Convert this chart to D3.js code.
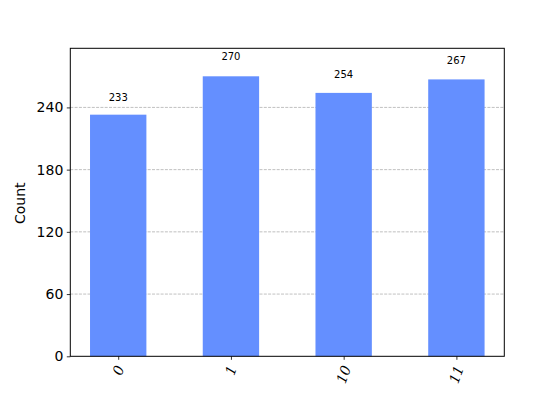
<!DOCTYPE html>
<html>
<head>
<meta charset="utf-8">
<script src="https://cdn.jsdelivr.net/npm/d3@7"></script>
<style>
  html, body { margin: 0; padding: 0; background: #fff; }
  svg { display: block; }
</style>
</head>
<body>
<svg id="chart" width="560" height="400"></svg>
<script>
const categories = ["0", "1", "10", "11"];
const counts = [233, 270, 254, 267];
const yTicks = [0, 60, 120, 180, 240];
const yLabel = "Count";

const W = 560, H = 400;
const margin = { left: 70.3, right: 504.3, top: 48.3, bottom: 356.3 };
const svg = d3.select("#chart");
const font = "'DejaVu Sans', sans-serif";

const idx = categories.map((d, i) => i);
const x = d3.scaleLinear().domain([-0.425, categories.length - 1 + 0.425]).range([margin.left, margin.right]);
const y = d3.scaleLinear().domain([0, d3.max(counts) * 1.1]).range([margin.bottom, margin.top]);
const barW = 0.5;

// grid
svg.append("g").selectAll("line").data(yTicks.filter(t => t > 0)).join("line")
  .attr("x1", margin.left).attr("x2", margin.right)
  .attr("y1", d => y(d)).attr("y2", d => y(d))
  .attr("stroke", "#b0b0b0").attr("stroke-width", 0.8)
  .attr("stroke-dasharray", "3,1.3");

// bars
svg.append("g").selectAll("rect").data(counts).join("rect")
  .attr("x", (d, i) => x(i - barW / 2))
  .attr("width", (d, i) => x(i + barW / 2) - x(i - barW / 2))
  .attr("y", d => y(d))
  .attr("height", d => y(0) - y(d))
  .attr("fill", "#648fff");

// value labels
svg.append("g").selectAll("text").data(counts).join("text")
  .attr("x", (d, i) => x(i))
  .attr("y", d => y(d * 1.05) - 2)
  .attr("text-anchor", "middle")
  .attr("font-family", font).attr("font-size", 10)
  .attr("fill", "#000")
  .text(d => d);

// y axis
const yAxis = d3.axisLeft(y).tickValues(yTicks).tickSize(3.5).tickPadding(3.5).tickFormat(d3.format("d"));
const gy = svg.append("g").attr("transform", `translate(${margin.left},0)`).call(yAxis);
gy.select(".domain").remove();
gy.selectAll(".tick line").attr("stroke", "#000").attr("stroke-width", 0.8);
gy.selectAll(".tick text").attr("font-family", font).attr("font-size", 14).attr("fill", "#000");

// x axis ticks
const xAxis = d3.axisBottom(x).tickValues(idx).tickSize(3.5).tickFormat("");
const gx = svg.append("g").attr("transform", `translate(0,${margin.bottom})`).call(xAxis);
gx.select(".domain").remove();
gx.selectAll(".tick line").attr("stroke", "#000").attr("stroke-width", 0.8);

// rotated x labels
const ang = 70 * Math.PI / 180;
const labels = svg.append("g").selectAll("text").data(categories).join("text")
  .attr("font-family", "'DejaVu Serif', serif").attr("font-style", "italic").attr("font-size", 14)
  .attr("fill", "#000")
  .attr("text-anchor", "middle")
  .attr("dominant-baseline", "central")
  .text(d => d);
labels.each(function(d, i) {
  const len = this.getComputedTextLength();
  const h = 10.5;
  const ext = len * Math.sin(ang) + h * Math.cos(ang);
  const top = margin.bottom + 3.5 + 4.5;
  d3.select(this).attr("transform", `translate(${x(i)},${top + ext / 2}) rotate(-70)`);
});

// frame
svg.append("rect")
  .attr("x", margin.left).attr("y", margin.top)
  .attr("width", margin.right - margin.left).attr("height", margin.bottom - margin.top)
  .attr("fill", "none").attr("stroke", "#000").attr("stroke-width", 1);

// y label
svg.append("text")
  .attr("transform", `translate(20,${(margin.top + margin.bottom) / 2 + 1}) rotate(-90)`)
  .attr("text-anchor", "middle").attr("dominant-baseline", "central")
  .attr("font-family", font).attr("font-size", 14).attr("fill", "#000")
  .text(yLabel);
</script>
</body>
</html>
